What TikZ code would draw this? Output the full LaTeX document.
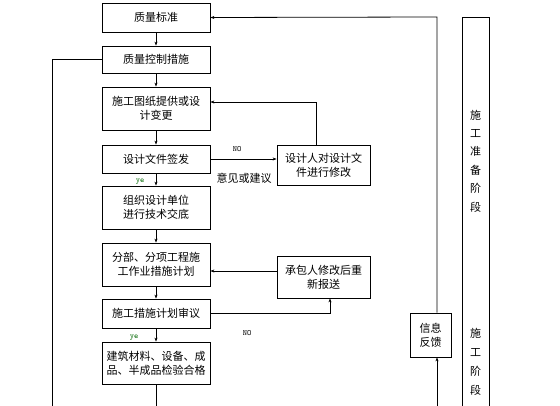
\documentclass[tikz,border=0pt]{standalone}
\usepackage{fontspec}
\setmainfont{Noto Sans CJK SC}
\usetikzlibrary{arrows.meta}
\tikzset{
  stepbox/.style={draw,line width=0.8pt,minimum width=108pt,align=center,inner sep=1pt,font=\fontsize{11pt}{14pt}\selectfont},
  sidebox/.style={stepbox,minimum width=93pt},
  tag/.style={font=\fontsize{8pt}{9pt}\selectfont\ttfamily},
}
\begin{document}
\begin{tikzpicture}[x=1pt,y=-1pt,line width=0.8pt,>={Stealth[length=4pt,width=3pt]}]
\useasboundingbox (0,0) rectangle (560,406);
\node[stepbox,minimum height=29pt] (q1) at (156,17.5) {质量标准};
\node[stepbox,minimum height=27pt] (q2) at (156,59.5) {质量控制措施};
\node[stepbox,minimum height=43pt] (q3) at (156,108.5) {施工图纸提供或设\\计变更};
\node[stepbox,minimum height=28pt] (q4) at (156,159) {设计文件签发};
\node[stepbox,minimum height=43pt] (q5) at (156,207.5) {组织设计单位\\进行技术交底};
\node[stepbox,minimum height=43pt] (q6) at (156,264.5) {分部、分项工程施\\工作业措施计划};
\node[stepbox,minimum height=29pt] (q7) at (156,313.5) {施工措施计划审议};
\node[stepbox,minimum height=42pt] (q8) at (156,363) {建筑材料、设备、成\\品、半成品检验合格};
\node[sidebox,minimum height=40pt] (r1) at (323.5,165) {设计人对设计文\\件进行修改};
\node[sidebox,minimum height=42pt] (r2) at (323.5,277) {承包人修改后重\\新报送};
\node[stepbox,minimum width=41pt,minimum height=44pt] (fb) at (430.5,335) {信息\\反馈};
\draw (462,406) -- (462,17) -- (489,17) -- (489,406);
\node[font=\fontsize{11pt}{18.4pt}\selectfont,align=center] (p1) at (475.5,161) {施\\工\\准\\备\\阶\\段};
\node[font=\fontsize{11pt}{19pt}\selectfont,align=center] (p2) at (475.5,362) {施\\工\\阶\\段};
\coordinate (bot) at (156,406);
\coordinate (lft) at (52,406);
\coordinate (rgt) at (437,406);
\draw[->] (q1) -- (q2);
\draw[->] (q2) -- (q3);
\draw[->] (q3) -- (q4);
\draw[->] (q4) -- (q5);
\draw[->] (q5) -- (q6);
\draw[->] (q6) -- (q7);
\draw[->] (q7) -- (q8);
\draw (q8) -- (bot);
\draw[->] (q4.east) -- (q4.east -| r1.west);
\draw[->] (r1.north -| 316,0) -- (316,102) -- (q3.east |- 0,102);
\draw[->] (r2.west |- 0,271) -- (q6.east |- 0,271);
\draw[->] (q7.east) -- (330,313.5) -- (r2.south -| 330,0);
\draw (q2.west) -- (lft |- q2.west) -- (lft);
\draw[->] (rgt) -- (rgt |- fb.south);
\draw[->] (rgt |- fb.north) -- (437,17) -- (q1.east);
\node[tag] (no1) at (237,149) {NO};
\node[font=\fontsize{11pt}{14pt}\selectfont] (yj) at (244,178) {意见或建议};
\node[tag,text=green!40!black] (ye1) at (140,182) {ye};
\node[tag] (no2) at (247,333) {NO};
\node[tag,text=green!40!black] (ye2) at (134,338) {ye};
\end{tikzpicture}
\end{document}
